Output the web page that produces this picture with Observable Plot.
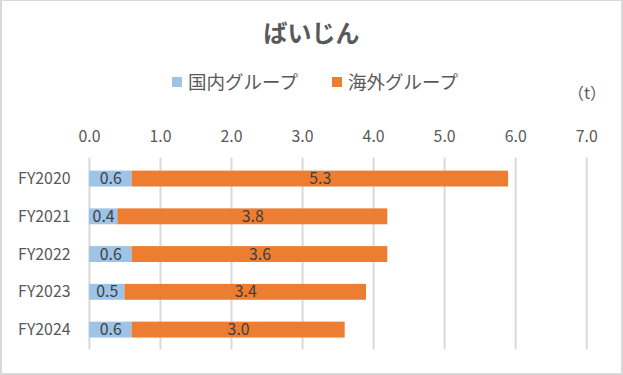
<!DOCTYPE html>
<html><head><meta charset="utf-8">
<script src="https://cdn.jsdelivr.net/npm/d3@7"></script>
<script src="https://cdn.jsdelivr.net/npm/@observablehq/plot@0.6"></script>
<style>
body{margin:0;background:#fff;}
#wrap{position:relative;width:623px;height:375px;box-sizing:border-box;border:2px solid #d9d9d9;border-top:1px solid #d9d9d9;overflow:hidden;font-family:"Noto Sans CJK JP","Noto Sans",sans-serif;color:#595959;}
#title{position:absolute;left:0;right:0;top:19px;text-align:center;font-size:24px;font-weight:bold;line-height:1;}
#legend{position:absolute;top:71px;left:0;width:623px;font-size:18.5px;line-height:1;}
.item{position:absolute;top:0;white-space:nowrap;}
.sw{display:inline-block;width:10px;height:10px;margin-right:6px;vertical-align:2px;}
#unit{position:absolute;left:566px;top:83px;font-size:16px;line-height:1;}
#chart{position:absolute;left:-2px;top:110px;}
</style></head>
<body>
<div id="wrap">
<div id="title">ばいじん</div>
<div id="legend"></div>
<div id="unit">（t）</div>
<div id="chart"></div>
</div>
<script>
const years = ["FY2020","FY2021","FY2022","FY2023","FY2024"];
const domestic = [0.6, 0.4, 0.6, 0.5, 0.6];
const overseas = [5.3, 3.8, 3.6, 3.4, 3.0];
const seriesNames = ["国内グループ","海外グループ"];
const colors = ["#9dc3e6","#ed7d31"];
const xTicks = [0,1,2,3,4,5,6,7];

// legend
const legend = document.getElementById("legend");
const legendX = [170, 330];
seriesNames.forEach((n,i)=>{
  const d = document.createElement("div");
  d.className="item"; d.style.left = legendX[i]+"px";
  d.innerHTML = `<span class="sw" style="background:${colors[i]}"></span>${n}`;
  legend.appendChild(d);
});

const rows = [];
years.forEach((y,i)=>{
  rows.push({year:y, series:seriesNames[0], value:domestic[i], x1:0, x2:domestic[i]});
  rows.push({year:y, series:seriesNames[1], value:overseas[i], x1:domestic[i], x2:domestic[i]+overseas[i]});
});

const chart = Plot.plot({
  width: 625,
  height: 260,
  marginTop: 47,
  marginBottom: 20,
  marginLeft: 89.5,
  marginRight: 35,
  style: {fontFamily: '"Noto Sans CJK JP","Noto Sans",sans-serif', fontSize: "16px", color: "#595959", background: "transparent"},
  x: {domain: [0,7], axis: null},
  y: {domain: years, paddingInner: 0.587, paddingOuter: 0.29, axis: null},
  color: {domain: seriesNames, range: colors},
  marks: [
    Plot.ruleX(xTicks, {stroke: "#d9d9d9", strokeWidth: 2, strokeOpacity: 1}),
    Plot.barX(rows, {y: "year", x1: "x1", x2: "x2", fill: "series"}),
    Plot.text(rows, {y: "year", x: d => (d.x1+d.x2)/2, text: d => d.value.toFixed(1), fill: "#404040", fontSize: 16}),
    Plot.axisX({anchor: "top", ticks: xTicks, tickSize: 0, tickPadding: 16, tickFormat: d => d.toFixed(1), fontSize: 16, fill: "#595959", label: null}),
    Plot.axisY({anchor: "left", tickSize: 0, tickPadding: 19, fontSize: 16, fill: "#595959", label: null})
  ]
});
document.getElementById("chart").appendChild(chart);
</script>
</body></html>
